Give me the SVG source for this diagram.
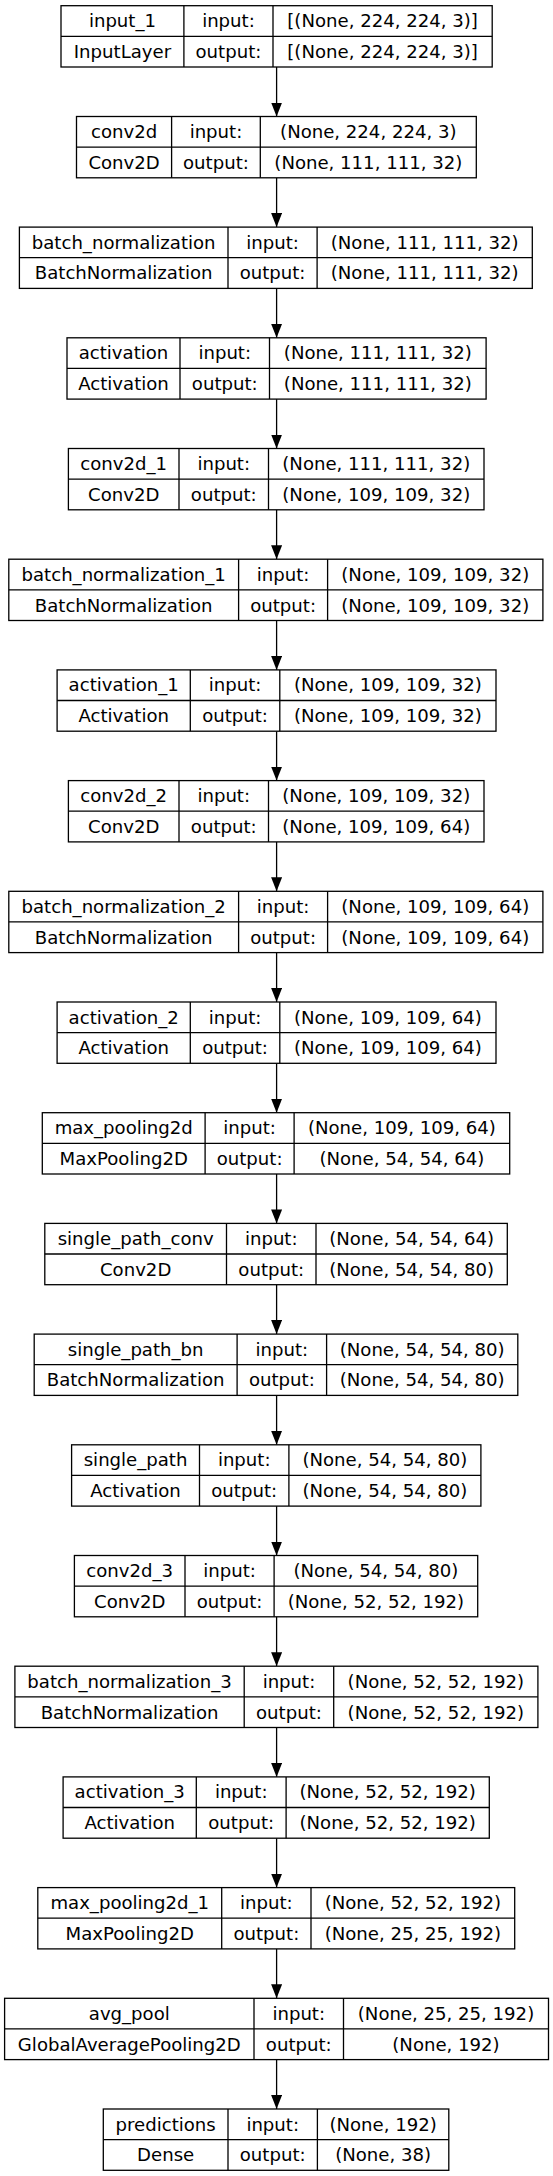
<svg xmlns="http://www.w3.org/2000/svg" width="553" height="2176" viewBox="0 0 553 2176">
<style>
.b{fill:#fff;stroke:#000;stroke-width:1.3}
.l{stroke:#000;stroke-width:1.3;fill:none}
text{font-family:"DejaVu Sans","Liberation Sans",sans-serif;font-size:18.1px;fill:#000;text-anchor:middle}
.e{stroke:#000;stroke-width:1.3;fill:none;marker-end:url(#ah)}
</style>
<defs>
<marker id="ah" markerUnits="userSpaceOnUse" markerWidth="14" markerHeight="11" refX="14" refY="5.5" orient="auto"><path d="M0,0 L14,5.5 L0,11 Z" fill="#000"/></marker>
</defs>
<rect width="553" height="2176" fill="#fff"/>
<g id="connectors">
<line class="e" x1="276.6" y1="67" x2="276.6" y2="116.5"/>
<line class="e" x1="276.6" y1="177.8" x2="276.6" y2="227.1"/>
<line class="e" x1="276.6" y1="288.4" x2="276.6" y2="337.8"/>
<line class="e" x1="276.6" y1="399.1" x2="276.6" y2="448.5"/>
<line class="e" x1="276.6" y1="509.8" x2="276.6" y2="559.2"/>
<line class="e" x1="276.6" y1="620.5" x2="276.6" y2="669.9"/>
<line class="e" x1="276.6" y1="731.2" x2="276.6" y2="780.6"/>
<line class="e" x1="276.6" y1="841.9" x2="276.6" y2="891.3"/>
<line class="e" x1="276.6" y1="952.6" x2="276.6" y2="1002"/>
<line class="e" x1="276.6" y1="1063.3" x2="276.6" y2="1112.7"/>
<line class="e" x1="276.6" y1="1174" x2="276.6" y2="1223.4"/>
<line class="e" x1="276.6" y1="1284.7" x2="276.6" y2="1334.1"/>
<line class="e" x1="276.6" y1="1395.4" x2="276.6" y2="1444.8"/>
<line class="e" x1="276.6" y1="1506.1" x2="276.6" y2="1555.5"/>
<line class="e" x1="276.6" y1="1616.8" x2="276.6" y2="1666.2"/>
<line class="e" x1="276.6" y1="1727.5" x2="276.6" y2="1776.9"/>
<line class="e" x1="276.6" y1="1838.2" x2="276.6" y2="1887.6"/>
<line class="e" x1="276.6" y1="1948.9" x2="276.6" y2="1998.3"/>
<line class="e" x1="276.6" y1="2059.6" x2="276.6" y2="2109"/>
</g>
<g id="input_1" transform="translate(0,5.7)">
<rect class="b" x="61" y="0" width="431.2" height="61.3"/>
<path class="l" d="M61,30.6H492.2M183.9,0V61.3M273,0V61.3"/>
<text x="122.45" y="21.5">input_1</text><text x="122.45" y="52.4">InputLayer</text>
<text x="228.45" y="21.5">input:</text><text x="228.45" y="52.4">output:</text>
<text x="382.6" y="21.5">[(None, 224, 224, 3)]</text><text x="382.6" y="52.4">[(None, 224, 224, 3)]</text>
</g>
<g id="conv2d" transform="translate(0,116.5)">
<rect class="b" x="76.5" y="0" width="399.8" height="61.3"/>
<path class="l" d="M76.5,30.6H476.3M171.6,0V61.3M260.3,0V61.3"/>
<text x="124.05" y="21.5">conv2d</text><text x="124.05" y="52.4">Conv2D</text>
<text x="215.95" y="21.5">input:</text><text x="215.95" y="52.4">output:</text>
<text x="368.3" y="21.5">(None, 224, 224, 3)</text><text x="368.3" y="52.4">(None, 111, 111, 32)</text>
</g>
<g id="batch_normalization" transform="translate(0,227.1)">
<rect class="b" x="19.4" y="0" width="512.9" height="61.3"/>
<path class="l" d="M19.4,30.6H532.3M228,0V61.3M317.1,0V61.3"/>
<text x="123.7" y="21.5">batch_normalization</text><text x="123.7" y="52.4">BatchNormalization</text>
<text x="272.55" y="21.5">input:</text><text x="272.55" y="52.4">output:</text>
<text x="424.7" y="21.5">(None, 111, 111, 32)</text><text x="424.7" y="52.4">(None, 111, 111, 32)</text>
</g>
<g id="activation" transform="translate(0,337.8)">
<rect class="b" x="67" y="0" width="419.1" height="61.3"/>
<path class="l" d="M67,30.6H486.1M180,0V61.3M269.5,0V61.3"/>
<text x="123.5" y="21.5">activation</text><text x="123.5" y="52.4">Activation</text>
<text x="224.75" y="21.5">input:</text><text x="224.75" y="52.4">output:</text>
<text x="377.8" y="21.5">(None, 111, 111, 32)</text><text x="377.8" y="52.4">(None, 111, 111, 32)</text>
</g>
<g id="conv2d_1" transform="translate(0,448.5)">
<rect class="b" x="68.4" y="0" width="415.6" height="61.3"/>
<path class="l" d="M68.4,30.6H484M179,0V61.3M268.5,0V61.3"/>
<text x="123.7" y="21.5">conv2d_1</text><text x="123.7" y="52.4">Conv2D</text>
<text x="223.75" y="21.5">input:</text><text x="223.75" y="52.4">output:</text>
<text x="376.25" y="21.5">(None, 111, 111, 32)</text><text x="376.25" y="52.4">(None, 109, 109, 32)</text>
</g>
<g id="batch_normalization_1" transform="translate(0,559.2)">
<rect class="b" x="8.8" y="0" width="534.1" height="61.3"/>
<path class="l" d="M8.8,30.6H542.9M238.6,0V61.3M327.6,0V61.3"/>
<text x="123.7" y="21.5">batch_normalization_1</text><text x="123.7" y="52.4">BatchNormalization</text>
<text x="283.1" y="21.5">input:</text><text x="283.1" y="52.4">output:</text>
<text x="435.25" y="21.5">(None, 109, 109, 32)</text><text x="435.25" y="52.4">(None, 109, 109, 32)</text>
</g>
<g id="activation_1" transform="translate(0,669.9)">
<rect class="b" x="57.1" y="0" width="438.9" height="61.3"/>
<path class="l" d="M57.1,30.6H496M190.3,0V61.3M279.8,0V61.3"/>
<text x="123.7" y="21.5">activation_1</text><text x="123.7" y="52.4">Activation</text>
<text x="235.05" y="21.5">input:</text><text x="235.05" y="52.4">output:</text>
<text x="387.9" y="21.5">(None, 109, 109, 32)</text><text x="387.9" y="52.4">(None, 109, 109, 32)</text>
</g>
<g id="conv2d_2" transform="translate(0,780.6)">
<rect class="b" x="68.4" y="0" width="415.6" height="61.3"/>
<path class="l" d="M68.4,30.6H484M179,0V61.3M268.5,0V61.3"/>
<text x="123.7" y="21.5">conv2d_2</text><text x="123.7" y="52.4">Conv2D</text>
<text x="223.75" y="21.5">input:</text><text x="223.75" y="52.4">output:</text>
<text x="376.25" y="21.5">(None, 109, 109, 32)</text><text x="376.25" y="52.4">(None, 109, 109, 64)</text>
</g>
<g id="batch_normalization_2" transform="translate(0,891.3)">
<rect class="b" x="8.8" y="0" width="534.1" height="61.3"/>
<path class="l" d="M8.8,30.6H542.9M238.6,0V61.3M327.6,0V61.3"/>
<text x="123.7" y="21.5">batch_normalization_2</text><text x="123.7" y="52.4">BatchNormalization</text>
<text x="283.1" y="21.5">input:</text><text x="283.1" y="52.4">output:</text>
<text x="435.25" y="21.5">(None, 109, 109, 64)</text><text x="435.25" y="52.4">(None, 109, 109, 64)</text>
</g>
<g id="activation_2" transform="translate(0,1002)">
<rect class="b" x="57.1" y="0" width="438.9" height="61.3"/>
<path class="l" d="M57.1,30.6H496M190.3,0V61.3M279.8,0V61.3"/>
<text x="123.7" y="21.5">activation_2</text><text x="123.7" y="52.4">Activation</text>
<text x="235.05" y="21.5">input:</text><text x="235.05" y="52.4">output:</text>
<text x="387.9" y="21.5">(None, 109, 109, 64)</text><text x="387.9" y="52.4">(None, 109, 109, 64)</text>
</g>
<g id="max_pooling2d" transform="translate(0,1112.7)">
<rect class="b" x="42.3" y="0" width="467.4" height="61.3"/>
<path class="l" d="M42.3,30.6H509.7M205.1,0V61.3M294.1,0V61.3"/>
<text x="123.7" y="21.5">max_pooling2d</text><text x="123.7" y="52.4">MaxPooling2D</text>
<text x="249.6" y="21.5">input:</text><text x="249.6" y="52.4">output:</text>
<text x="401.9" y="21.5">(None, 109, 109, 64)</text><text x="401.9" y="52.4">(None, 54, 54, 64)</text>
</g>
<g id="single_path_conv" transform="translate(0,1223.4)">
<rect class="b" x="44.8" y="0" width="462.5" height="61.3"/>
<path class="l" d="M44.8,30.6H507.3M226.5,0V61.3M316,0V61.3"/>
<text x="135.65" y="21.5">single_path_conv</text><text x="135.65" y="52.4">Conv2D</text>
<text x="271.25" y="21.5">input:</text><text x="271.25" y="52.4">output:</text>
<text x="411.65" y="21.5">(None, 54, 54, 64)</text><text x="411.65" y="52.4">(None, 54, 54, 80)</text>
</g>
<g id="single_path_bn" transform="translate(0,1334.1)">
<rect class="b" x="34.2" y="0" width="483.6" height="61.3"/>
<path class="l" d="M34.2,30.6H517.8M237.1,0V61.3M326.6,0V61.3"/>
<text x="135.65" y="21.5">single_path_bn</text><text x="135.65" y="52.4">BatchNormalization</text>
<text x="281.85" y="21.5">input:</text><text x="281.85" y="52.4">output:</text>
<text x="422.2" y="21.5">(None, 54, 54, 80)</text><text x="422.2" y="52.4">(None, 54, 54, 80)</text>
</g>
<g id="single_path" transform="translate(0,1444.8)">
<rect class="b" x="71.6" y="0" width="409.3" height="61.3"/>
<path class="l" d="M71.6,30.6H480.9M199.5,0V61.3M288.9,0V61.3"/>
<text x="135.55" y="21.5">single_path</text><text x="135.55" y="52.4">Activation</text>
<text x="244.2" y="21.5">input:</text><text x="244.2" y="52.4">output:</text>
<text x="384.9" y="21.5">(None, 54, 54, 80)</text><text x="384.9" y="52.4">(None, 54, 54, 80)</text>
</g>
<g id="conv2d_3" transform="translate(0,1555.5)">
<rect class="b" x="74.4" y="0" width="403.3" height="61.3"/>
<path class="l" d="M74.4,30.6H477.7M185,0V61.3M274.1,0V61.3"/>
<text x="129.7" y="21.5">conv2d_3</text><text x="129.7" y="52.4">Conv2D</text>
<text x="229.55" y="21.5">input:</text><text x="229.55" y="52.4">output:</text>
<text x="375.9" y="21.5">(None, 54, 54, 80)</text><text x="375.9" y="52.4">(None, 52, 52, 192)</text>
</g>
<g id="batch_normalization_3" transform="translate(0,1666.2)">
<rect class="b" x="14.9" y="0" width="523" height="61.3"/>
<path class="l" d="M14.9,30.6H537.9M244.2,0V61.3M333.7,0V61.3"/>
<text x="129.55" y="21.5">batch_normalization_3</text><text x="129.55" y="52.4">BatchNormalization</text>
<text x="288.95" y="21.5">input:</text><text x="288.95" y="52.4">output:</text>
<text x="435.8" y="21.5">(None, 52, 52, 192)</text><text x="435.8" y="52.4">(None, 52, 52, 192)</text>
</g>
<g id="activation_3" transform="translate(0,1776.9)">
<rect class="b" x="63.1" y="0" width="426.2" height="61.3"/>
<path class="l" d="M63.1,30.6H489.3M196.3,0V61.3M286.1,0V61.3"/>
<text x="129.7" y="21.5">activation_3</text><text x="129.7" y="52.4">Activation</text>
<text x="241.2" y="21.5">input:</text><text x="241.2" y="52.4">output:</text>
<text x="387.7" y="21.5">(None, 52, 52, 192)</text><text x="387.7" y="52.4">(None, 52, 52, 192)</text>
</g>
<g id="max_pooling2d_1" transform="translate(0,1887.6)">
<rect class="b" x="37.8" y="0" width="476.9" height="61.3"/>
<path class="l" d="M37.8,30.6H514.7M221.7,0V61.3M311,0V61.3"/>
<text x="129.75" y="21.5">max_pooling2d_1</text><text x="129.75" y="52.4">MaxPooling2D</text>
<text x="266.35" y="21.5">input:</text><text x="266.35" y="52.4">output:</text>
<text x="412.85" y="21.5">(None, 52, 52, 192)</text><text x="412.85" y="52.4">(None, 25, 25, 192)</text>
</g>
<g id="avg_pool" transform="translate(0,1998.3)">
<rect class="b" x="4.6" y="0" width="543.9" height="61.3"/>
<path class="l" d="M4.6,30.6H548.5M254,0V61.3M343.5,0V61.3"/>
<text x="129.3" y="21.5">avg_pool</text><text x="129.3" y="52.4">GlobalAveragePooling2D</text>
<text x="298.75" y="21.5">input:</text><text x="298.75" y="52.4">output:</text>
<text x="446" y="21.5">(None, 25, 25, 192)</text><text x="446" y="52.4">(None, 192)</text>
</g>
<g id="predictions" transform="translate(0,2109)">
<rect class="b" x="103.3" y="0" width="345.5" height="61.3"/>
<path class="l" d="M103.3,30.6H448.8M228,0V61.3M317.4,0V61.3"/>
<text x="165.65" y="21.5">predictions</text><text x="165.65" y="52.4">Dense</text>
<text x="272.7" y="21.5">input:</text><text x="272.7" y="52.4">output:</text>
<text x="383.1" y="21.5">(None, 192)</text><text x="383.1" y="52.4">(None, 38)</text>
</g>
</svg>
